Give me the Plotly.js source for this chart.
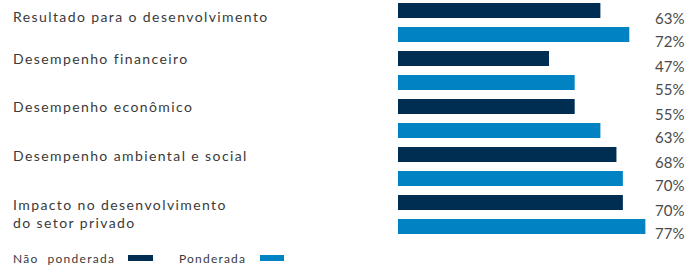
<!DOCTYPE html>
<html>
<head>
<meta charset="utf-8">
<script src="https://cdn.plot.ly/plotly-3.0.1.min.js"></script>
<style>html,body{margin:0;padding:0;background:#fff;}#chart{width:689px;height:267px;}</style>
</head>
<body>
<div id="chart"></div>
<script>
const categories = [
  "Resultado para o desenvolvimento",
  "Desempenho financeiro",
  "Desempenho econômico",
  "Desempenho ambiental e social",
  "Impacto no desenvolvimento<br>do setor privado"
];
const naoPonderada = [63, 47, 55, 68, 70];
const ponderada = [72, 55, 63, 70, 77];
const seriesNames = ["Não ponderada", "Ponderada"];

const DARK = "#002D52", LIGHT = "#0082C3", TXT = "#3a3a3a";
const FONT = "Lato, 'Open Sans', sans-serif";
const W = 689, H = 267, L = 398, R = 34, T = 0, B = 27;
const plotW = W - L - R, plotH = H - T - B;
const px2x = p => (p - L) / plotW;      // paper x from pixel
const px2y = p => 1 - (p - T) / plotH;  // paper y from pixel

const traces = [
  {type: "bar", orientation: "h", y: categories, x: naoPonderada, name: seriesNames[0],
   marker: {color: DARK}, hoverinfo: "none"},
  {type: "bar", orientation: "h", y: categories, x: ponderada, name: seriesNames[1],
   marker: {color: LIGHT}, hoverinfo: "none"}
];

const labelShift = [6, 12, 12, 11.5, 1.5];
const annotations = [];
const spaced = []; // [annotation index, letter spacing px]
categories.forEach((c, i) => {
  spaced.push([annotations.length, 1.4]);
  annotations.push({xref: "paper", yref: "y", x: px2x(11), y: c, xanchor: "left",
    yanchor: "middle", align: "left", text: c, showarrow: false,
    yshift: labelShift[i],
    font: {family: FONT, size: 14, color: TXT}});
  annotations.push({xref: "paper", yref: "y", x: px2x(686), y: c, xanchor: "right",
    text: naoPonderada[i] + "%", showarrow: false, yshift: 4.5,
    font: {family: FONT, size: 15, color: "#4a4a4a"}});
  annotations.push({xref: "paper", yref: "y", x: px2x(686), y: c, xanchor: "right",
    text: ponderada[i] + "%", showarrow: false, yshift: -18.5,
    font: {family: FONT, size: 15, color: "#4a4a4a"}});
});
// legend
spaced.push([annotations.length, 1.3]);
annotations.push({xref: "paper", yref: "paper", x: px2x(11), y: px2y(258), xanchor: "left", yanchor: "middle",
  align: "left", text: "Não&nbsp;&nbsp;ponderada", showarrow: false, font: {family: FONT, size: 12, color: TXT}});
spaced.push([annotations.length, 1.2]);
annotations.push({xref: "paper", yref: "paper", x: px2x(177), y: px2y(258), xanchor: "left", yanchor: "middle",
  align: "left", text: seriesNames[1], showarrow: false, font: {family: FONT, size: 12, color: TXT}});
const shapes = [
  {type: "rect", xref: "paper", yref: "paper", x0: px2x(128), x1: px2x(153), y0: px2y(255), y1: px2y(261),
   fillcolor: DARK, line: {width: 0}},
  {type: "rect", xref: "paper", yref: "paper", x0: px2x(260), x1: px2x(284), y0: px2y(255), y1: px2y(261),
   fillcolor: LIGHT, line: {width: 0}}
];

const layout = {
  width: W, height: H,
  margin: {l: L, r: R, t: T, b: B, pad: 0},
  paper_bgcolor: "#fff", plot_bgcolor: "#fff",
  barmode: "group", bargap: 0, bargroupgap: 0.375,
  showlegend: false,
  xaxis: {range: [0, 80], visible: false, fixedrange: true},
  yaxis: {type: "category", range: [4.53125, -0.46875], visible: false, fixedrange: true},
  annotations: annotations, shapes: shapes,
  font: {family: FONT}
};
Plotly.newPlot("chart", traces, layout, {staticPlot: true, displayModeBar: false}).then(gd => {
  spaced.forEach(([idx, ls]) => {
    const g = gd.querySelector('.annotation[data-index="' + idx + '"] text');
    if (g) g.style.letterSpacing = ls + "px";
  });
});
</script>
</body>
</html>
